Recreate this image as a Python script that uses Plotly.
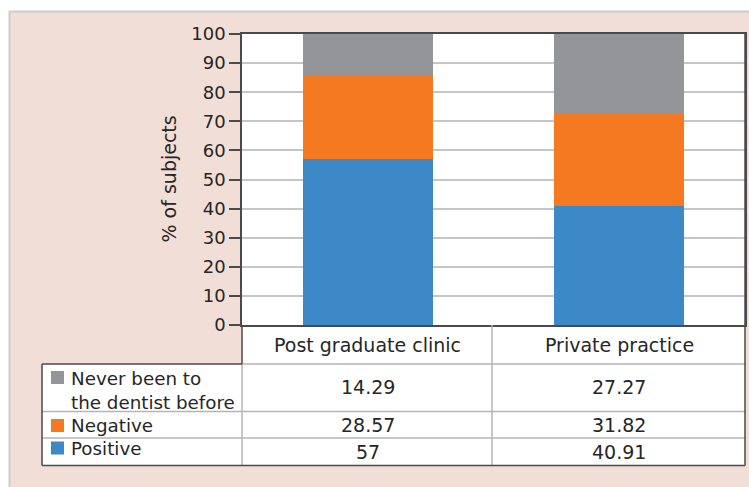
import plotly.graph_objects as go

# Survey data: share of subjects per response, by practice setting
categories = ["Post graduate clinic", "Private practice"]
positive = [57, 40.91]
negative = [28.57, 31.82]
never_been = [14.29, 27.27]

series_labels = ["Positive", "Negative", "Never been to<br>the dentist before"]
series_values = [positive, negative, never_been]
series_colors = ["#3d89c8", "#f47920", "#939598"]

y_ticks = list(range(0, 101, 10))

W, H = 749, 487
FONT = "DejaVu Sans"
TEXT = "#262626"
DARK = "#4a4a4a"
LIGHT = "#b5b5b5"
PINK = "#f1ded6"
TXT_SIZE = 19
LABEL_SIZE = 18.3
TICK_SIZE = 18


def fx(px):
    return px / W


def fy(py):
    return 1 - py / H


# plot-area edges in pixels
PL, PR, PT, PB = 242, 745, 34, 325
# table geometry in pixels
T_LEFT, T_MID = 42, 492
ROW_LINES = [364, 411.5, 438, 465.5]

fig = go.Figure()
for name, vals, col in zip(series_labels, series_values, series_colors):
    fig.add_trace(go.Bar(
        x=categories, y=vals, name=name.replace("<br>", " "),
        marker=dict(color=col, line=dict(width=0)),
        showlegend=False,
    ))

shapes = []
# white strip above/left of the pink panel, and the panel's grey edge
shapes.append(dict(type="rect", xref="paper", yref="paper", x0=0, x1=1, y0=fy(11), y1=1,
                   fillcolor="white", line=dict(width=0), layer="below"))
shapes.append(dict(type="rect", xref="paper", yref="paper", x0=0, x1=fx(9), y0=0, y1=1,
                   fillcolor="white", line=dict(width=0), layer="below"))
shapes.append(dict(type="line", xref="paper", yref="paper", x0=fx(9), x1=1, y0=fy(11.5), y1=fy(11.5),
                   line=dict(color="#cccccc", width=2)))
shapes.append(dict(type="line", xref="paper", yref="paper", x0=fx(9.5), x1=fx(9.5), y0=0, y1=fy(11),
                   line=dict(color="#cccccc", width=2)))

# table background
shapes.append(dict(type="rect", xref="paper", yref="paper", x0=fx(PL), x1=fx(PR), y0=fy(ROW_LINES[0]), y1=fy(PB),
                   fillcolor="white", line=dict(width=0), layer="below"))
shapes.append(dict(type="rect", xref="paper", yref="paper", x0=fx(T_LEFT), x1=fx(PR), y0=fy(ROW_LINES[-1]), y1=fy(ROW_LINES[0]),
                   fillcolor="white", line=dict(width=0), layer="below"))


def hline(y, x0, x1, color):
    shapes.append(dict(type="line", xref="paper", yref="paper", x0=fx(x0), x1=fx(x1), y0=fy(y), y1=fy(y),
                       line=dict(color=color, width=1.5)))


def vline(x, y0, y1, color):
    shapes.append(dict(type="line", xref="paper", yref="paper", x0=fx(x), x1=fx(x), y0=fy(y0), y1=fy(y1),
                       line=dict(color=color, width=1.5)))


# inner grid of the table
hline(ROW_LINES[0], PL, PR, LIGHT)
hline(ROW_LINES[1], T_LEFT, PR, LIGHT)
hline(ROW_LINES[2], T_LEFT, PR, LIGHT)
vline(PL, ROW_LINES[0], ROW_LINES[-1], LIGHT)
vline(T_MID, PB, ROW_LINES[-1], LIGHT)
# outer border of the table
hline(ROW_LINES[0], T_LEFT, PL, DARK)
hline(ROW_LINES[-1], T_LEFT, PR, DARK)
vline(T_LEFT, ROW_LINES[0], ROW_LINES[-1], DARK)
vline(PL, PB, ROW_LINES[0], DARK)
vline(PR, PT, ROW_LINES[-1], DARK)

annotations = []
# column headers
for c in categories:
    annotations.append(dict(xref="x", yref="paper", x=c, y=fy(344.5), text=c, showarrow=False,
                            xanchor="center", yanchor="middle", font=dict(family=FONT, size=TXT_SIZE, color=TEXT)))

# rows of the table, top to bottom
row_text_y = {series_labels[2]: 386.7, series_labels[1]: 424.5, series_labels[0]: 451.5}
row_label_y = {series_labels[2]: 390, series_labels[1]: 425, series_labels[0]: 448.5}
row_square_y = {series_labels[2]: 377.5, series_labels[1]: 425.5, series_labels[0]: 448}
for name, vals, col in zip(series_labels, series_values, series_colors):
    for c, v in zip(categories, vals):
        annotations.append(dict(xref="x", yref="paper", x=c, y=fy(row_text_y[name]), text=f"{v:g}",
                                showarrow=False, xanchor="center", yanchor="middle",
                                font=dict(family=FONT, size=TXT_SIZE, color=TEXT)))
    annotations.append(dict(xref="paper", yref="paper", x=fx(69), y=fy(row_label_y[name]), text=name,
                            showarrow=False, xanchor="left", yanchor="middle", align="left",
                            font=dict(family=FONT, size=LABEL_SIZE, color=TEXT)))
    sy = row_square_y[name]
    shapes.append(dict(type="rect", xref="paper", yref="paper", x0=fx(51), x1=fx(64), y0=fy(sy + 6.5), y1=fy(sy - 6.5),
                       fillcolor=col, line=dict(width=0)))

# y-axis title
annotations.append(dict(xref="paper", yref="paper", x=fx(168), y=fy(179.5), text="% of subjects", textangle=-90,
                        showarrow=False, xanchor="center", yanchor="middle",
                        font=dict(family=FONT, size=TXT_SIZE, color=TEXT)))

fig.update_layout(
    width=W, height=H,
    margin=dict(l=0, r=0, t=0, b=0, pad=0, autoexpand=False),
    paper_bgcolor=PINK,
    plot_bgcolor="white",
    barmode="stack",
    bargap=0.483,
    shapes=shapes,
    annotations=annotations,
    font=dict(family=FONT, size=TXT_SIZE, color=TEXT),
    xaxis=dict(domain=[fx(PL), fx(PR)], range=[-0.5, 1.5], showticklabels=False, ticks="",
               showline=True, linecolor=DARK, linewidth=1.5, mirror=True, showgrid=False, zeroline=False,
               fixedrange=True, automargin=False),
    yaxis=dict(domain=[fy(PB), fy(PT)], range=[0, 100], tickvals=y_ticks, ticks="outside", ticklen=11,
               tickwidth=1.5, tickcolor=DARK, showline=True, linecolor=DARK, linewidth=1.5, mirror=True,
               showgrid=True, gridcolor="#c6c6c6", gridwidth=1.5, zeroline=False,
               tickfont=dict(family=FONT, size=TICK_SIZE, color=TEXT), fixedrange=True, automargin=False),
)

fig.write_html("out.html")
